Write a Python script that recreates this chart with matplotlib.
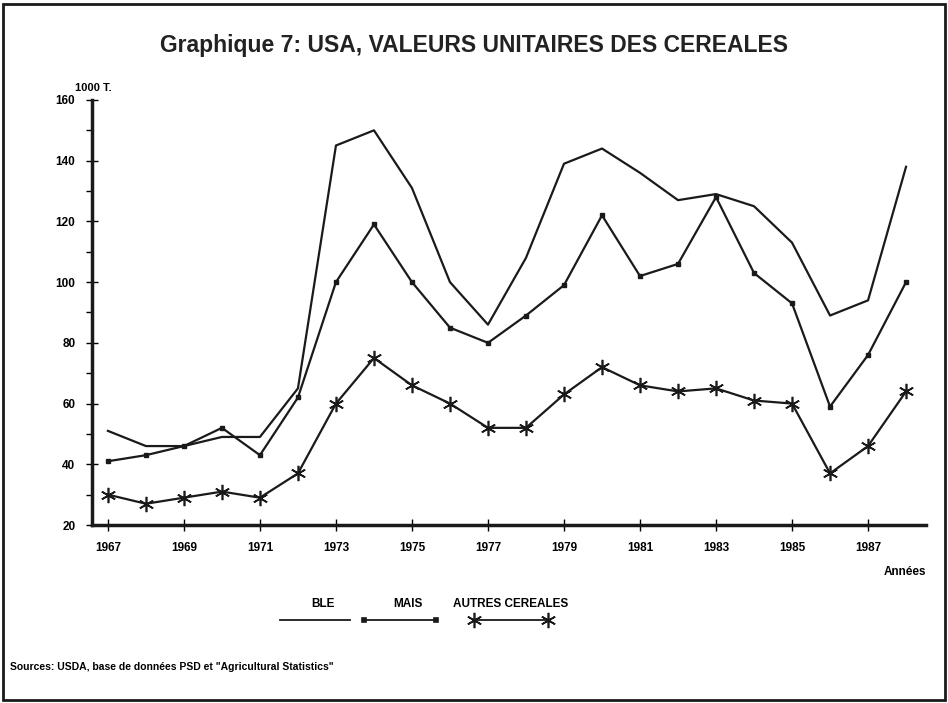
import numpy as np
import matplotlib
matplotlib.use("Agg")
import matplotlib.pyplot as plt
from matplotlib.lines import Line2D
from matplotlib.patches import Rectangle
from matplotlib.ticker import MultipleLocator

plt.rcParams['font.family'] = ['Liberation Sans', 'DejaVu Sans']

# données
annees = np.arange(1967, 1989)
ble = [51, 46, 46, 49, 49, 65, 145, 150, 131, 100, 86, 108, 139, 144,
       136, 127, 129, 125, 113, 89, 94, 138]
mais = [41, 43, 46, 52, 43, 62, 100, 119, 100, 85, 80, 89, 99, 122,
        102, 106, 128, 103, 93, 59, 76, 100]
autres = [30, 27, 29, 31, 29, 37, 60, 75, 66, 60, 52, 52, 63, 72,
          66, 64, 65, 61, 60, 37, 46, 64]
ticks_x = list(range(1967, 1989, 2))
ticks_y = list(range(20, 161, 20))

asterisk = (6, 2, 0)

fig = plt.figure(figsize=(9.48, 7.03), dpi=100)
ax = fig.add_axes([0.097, 0.2532, 0.880, 0.6046])

ax.plot(annees, ble, color='#1a1a1a', lw=1.6)
ax.plot(annees, mais, color='#1a1a1a', lw=1.6, marker='s', ms=3.5)
ax.plot(annees, autres, color='#1a1a1a', lw=1.6, marker=asterisk, ms=11,
        mew=1.2)

ax.set_xlim(1966.58, 1988.53)
ax.set_ylim(20, 160)
ax.set_xticks(ticks_x)
ax.set_yticks(ticks_y)
ax.yaxis.set_minor_locator(MultipleLocator(10))
for s in ['top', 'right']:
    ax.spines[s].set_visible(False)
for s in ['left', 'bottom']:
    ax.spines[s].set_linewidth(2.5)
    ax.spines[s].set_color('#1a1a1a')
ax.tick_params(axis='both', which='major', direction='inout', length=8,
               width=1.0, labelsize=8.5, pad=8)
ax.tick_params(axis='y', which='minor', direction='out', length=4, width=1.0)
for lab in ax.get_xticklabels() + ax.get_yticklabels():
    lab.set_fontweight('bold')

fig.text(0.50, 0.935, "Graphique 7: USA, VALEURS UNITAIRES DES CEREALES",
         ha='center', va='center', fontsize=16.5, fontweight='bold',
         color='#222222')
fig.text(0.079, 0.875, "1000 T.", ha='left', va='center', fontsize=8,
         fontweight='bold')
fig.text(0.955, 0.187, "Années", ha='center', va='center', fontsize=8.5,
         fontweight='bold')

# légende
H, W = 703, 948
def fx(x):
    return x / W
def fy(y):
    return 1 - y / H

leg = [("BLE", 280, 350, None, 0),
       ("MAIS", 364, 436, 's', 3.5),
       ("AUTRES CEREALES", 474, 548, asterisk, 11)]
for nom, x0, x1, mk, ms in leg:
    fig.text(fx((x0 + x1) / 2 + (8 if nom != "AUTRES CEREALES" else 0)),
             fy(604), nom, ha='center', va='center', fontsize=8.5,
             fontweight='bold')
    fig.add_artist(Line2D([fx(x0), fx(x1)], [fy(620), fy(620)],
                          color='#1a1a1a', lw=1.3,
                          marker=mk if mk else 'None', ms=ms, mew=1.2))

fig.text(0.011, fy(667), 'Sources: USDA, base de données PSD et "Agricultural Statistics"',
         ha='left', va='center', fontsize=7.5, fontweight='bold')

fig.add_artist(Rectangle((0.003, 0.004), 0.994, 0.990, transform=fig.transFigure,
                         fill=False, lw=2.0, ec='#1a1a1a'))

fig.savefig("out.png", dpi=100)
